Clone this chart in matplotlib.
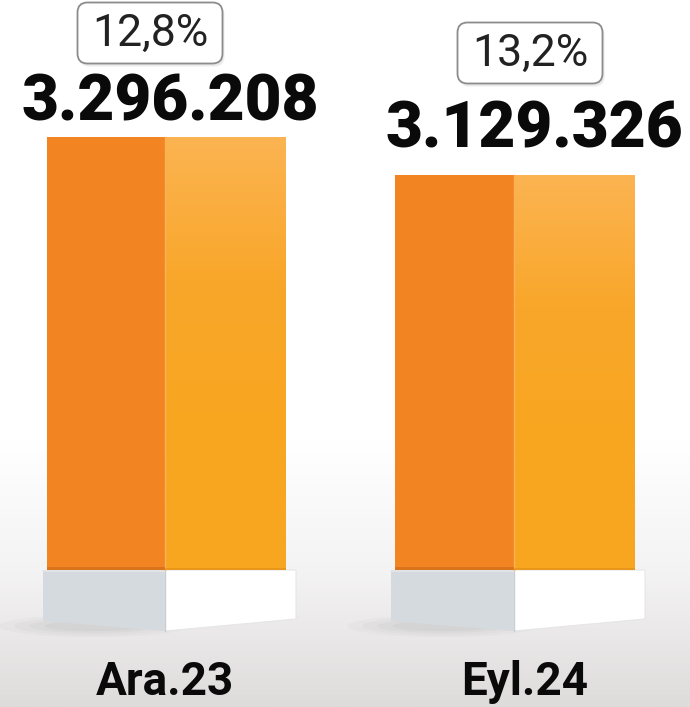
import numpy as np
import matplotlib
matplotlib.use("Agg")
import matplotlib.pyplot as plt
from matplotlib.patches import Polygon, FancyBboxPatch, Ellipse
from matplotlib.colors import LinearSegmentedColormap

plt.rcParams["font.family"] = ["Roboto", "DejaVu Sans"]

# ── data ────────────────────────────────────────────────────────────────
CATEGORIES = ["Ara.23", "Eyl.24"]
VALUES     = [3296208, 3129326]
VALUE_TXT  = ["3.296.208", "3.129.326"]
SHARE_TXT  = ["12,8%", "13,2%"]

# ── layout (pixel space, 690 x 707) ─────────────────────────────────────
W, H = 690, 707
BAR_LEFT  = [47, 395]
BAR_MID   = [165, 514]
BAR_RIGHT = [286, 635]
BASE_PX   = 570                      # where the bars meet the pedestals
Y_BOTTOM, Y_TOP = 792_996, 3_897_857  # value axis limits (truncated)
BASE = Y_TOP - BASE_PX / H * (Y_TOP - Y_BOTTOM)

VALUE_DY = [34, 46]        # px above bar top for the value label centre
BOX_DY   = [104, 122]      # px above bar top for the share box centre
LABEL_X  = [170, 534]
BOX_X    = [150, 530]
CAT_X    = [165, 525]

DARK   = "#F28421"
LIGHT  = "#F8A620"
PED_L  = "#D5DADE"


def val_to_px(v):
    return (Y_TOP - v) / (Y_TOP - Y_BOTTOM) * H


fig = plt.figure(figsize=(W / 100, H / 100), dpi=100)

# background / decoration axes in pixel coordinates
bg = fig.add_axes([0, 0, 1, 1])
bg.set_xlim(0, W)
bg.set_ylim(H, 0)
bg.axis("off")

floor = LinearSegmentedColormap.from_list("floor", ["#FFFFFF", "#F4F3F3", "#DEDBDB"])
grad = np.linspace(0, 1, 256).reshape(-1, 1)
bg.imshow(grad, cmap=floor, extent=(0, W, H, 440), aspect="auto", zorder=0)

for i in range(len(CATEGORIES)):
    l, m, r = BAR_LEFT[i] - 4, BAR_MID[i], BAR_RIGHT[i] + 10
    # soft shadow under pedestal
    for k, a in enumerate([0.05, 0.05, 0.06, 0.07]):
        bg.add_patch(Ellipse(((l + m) / 2 - 10, 626), 190 - k * 30, 22 - k * 4,
                             color="#8A8A8A", alpha=a, lw=0, zorder=1))
    bg.add_patch(Polygon([(l, BASE_PX), (m, BASE_PX), (m, 631), (l, 621)],
                         closed=True, fc=PED_L, ec="none", zorder=2))
    bg.add_patch(Polygon([(m, BASE_PX), (r, BASE_PX), (r, 619), (m, 631)],
                         closed=True, fc="#FFFFFF", ec="#E6E6E6", lw=0.8, zorder=2))
    bg.plot([m, m], [BASE_PX, 631], color="#C9CDD1", lw=1.0, zorder=3)
    bg.plot([l, m], [BASE_PX + 1, BASE_PX + 1], color="#E4E7EA", lw=1.2, zorder=3)

    # share box
    bx, by = BOX_X[i], val_to_px(VALUES[i]) - BOX_DY[i]
    bw, bh = 145, 61
    bg.add_patch(FancyBboxPatch((bx - bw / 2 + 2, by - bh / 2 + 3), bw, bh,
                                boxstyle="round,pad=0,rounding_size=10",
                                fc="#D8D8D8", ec="none", alpha=0.5, zorder=2))
    bg.add_patch(FancyBboxPatch((bx - bw / 2, by - bh / 2), bw, bh,
                                boxstyle="round,pad=0,rounding_size=10",
                                fc="white", ec="#8C8C8C", lw=1.3, zorder=3))
    bg.text(bx, by + 1, SHARE_TXT[i], ha="center", va="center",
            fontsize=32, color="#222222", zorder=4)

    bg.text(CAT_X[i], 682, CATEGORIES[i], ha="center", va="center",
            fontsize=33, fontweight="bold", color="#0A0A0A", zorder=4)

# value axes for the bars
ax = fig.add_axes([0, 0, 1, 1], zorder=1)
ax.patch.set_visible(False)
ax.set_xlim(0, W)
ax.set_ylim(Y_BOTTOM, Y_TOP)
ax.axis("off")

heights = [v - BASE for v in VALUES]
dark_w  = [m - l for l, m in zip(BAR_LEFT, BAR_MID)]
light_w = [r - m for m, r in zip(BAR_MID, BAR_RIGHT)]

ax.bar(BAR_LEFT, heights, width=dark_w, bottom=BASE, align="edge",
       color=DARK, lw=0, zorder=2)
light_bars = ax.bar(BAR_MID, heights, width=light_w, bottom=BASE, align="edge",
                    color=LIGHT, lw=0, zorder=2)

shade = LinearSegmentedColormap.from_list("shade", ["#FCB452", "#F9A72A", LIGHT, LIGHT])
for i, rect in enumerate(light_bars):
    im = ax.imshow(grad, cmap=shade, extent=(BAR_MID[i], BAR_RIGHT[i], BASE, VALUES[i]),
                   aspect="auto", zorder=3, origin="upper")
    im.set_clip_path(rect)
    # edge highlight and bottom shade
    ax.plot([BAR_MID[i], BAR_MID[i]], [BASE, VALUES[i]], color="#F9B257", lw=1.0, zorder=4)
    ax.fill_between([BAR_LEFT[i], BAR_MID[i]], BASE, BASE + 12000,
                    color="#C9691A", alpha=0.6, lw=0, zorder=4)
    ax.fill_between([BAR_MID[i], BAR_RIGHT[i]], BASE, BASE + 9000,
                    color="#D98A16", alpha=0.5, lw=0, zorder=4)

for i, v in enumerate(VALUES):
    ax.annotate(VALUE_TXT[i], (LABEL_X[i], v), xytext=(0, VALUE_DY[i]),
                textcoords="offset pixels", ha="center", va="center",
                fontsize=46, fontweight="black", color="#0A0A0A", zorder=5)

ax.set_xlim(0, W)
ax.set_ylim(Y_BOTTOM, Y_TOP)
fig.savefig("out.png", dpi=100, facecolor="white")
